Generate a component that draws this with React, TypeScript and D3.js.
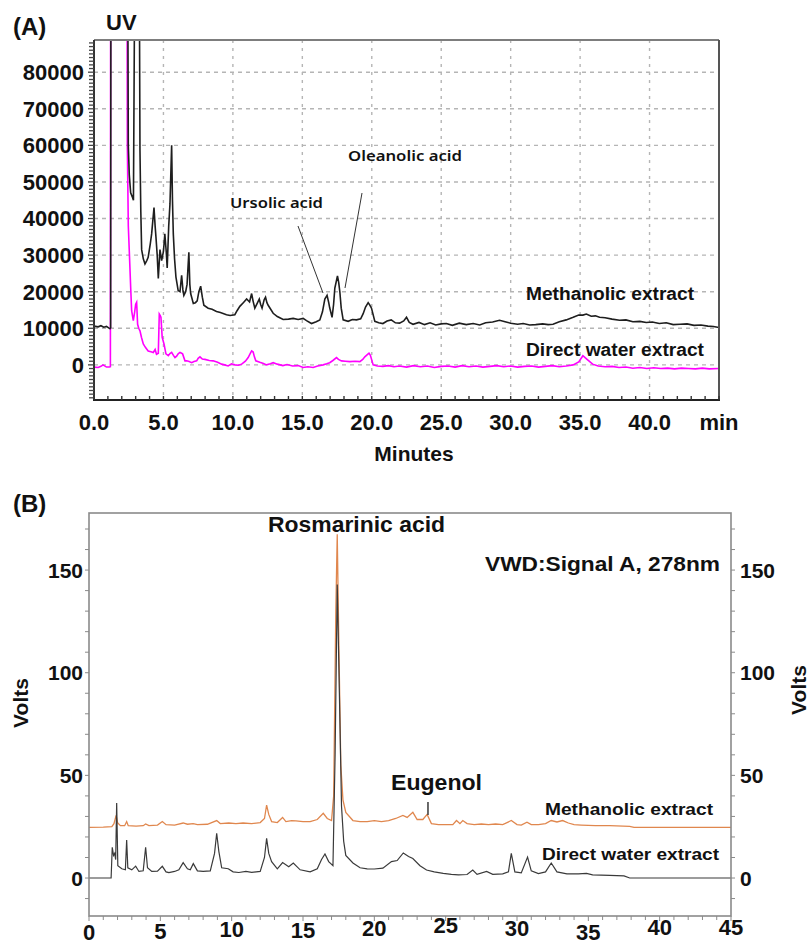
import React from 'react';
import * as d3 from 'd3';

// ---------- Panel A data (UV chromatogram) ----------
const A_METH_T = [0, 0.3, 0.5, 0.7, 0.9, 1.05, 1.15, 1.2, 1.22, 2.42, 2.47, 2.54, 2.64, 2.75, 2.84, 2.95, 3.25, 3.31, 3.37, 3.43, 3.55, 3.67, 3.8, 3.9, 4.05, 4.15, 4.32, 4.4, 4.46, 4.55, 4.63, 4.75, 4.87, 5.0, 5.1, 5.2, 5.27, 5.38, 5.47, 5.59, 5.65, 5.71, 5.8, 5.9, 6.06, 6.19, 6.31, 6.4, 6.47, 6.6, 6.7, 6.83, 6.9, 6.96, 7.15, 7.3, 7.43, 7.55, 7.68, 7.8, 7.91, 8.22, 8.5, 8.82, 9.1, 9.54, 9.8, 10.14, 10.3, 10.5, 10.75, 10.99, 11.2, 11.35, 11.45, 11.58, 11.75, 11.9, 12.0, 12.1, 12.25, 12.35, 12.45, 12.54, 12.9, 13.2, 13.62, 14.0, 14.34, 14.7, 15.06, 15.3, 15.66, 16.0, 16.26, 16.45, 16.62, 16.78, 16.9, 16.97, 17.14, 17.25, 17.34, 17.53, 17.62, 17.7, 17.8, 17.94, 18.3, 18.6, 18.9, 19.2, 19.38, 19.55, 19.74, 19.85, 19.98, 20.22, 20.5, 20.8, 21.1, 21.4, 21.7, 22.0, 22.3, 22.5, 22.7, 22.97, 23.4, 23.8, 24.2, 24.6, 25.0, 25.37, 25.8, 26.3, 26.8, 27.3, 27.77, 28.2, 28.7, 29.2, 29.6, 30.0, 30.5, 30.9, 31.37, 31.8, 32.3, 32.7, 33.05, 33.5, 34.0, 34.5, 34.9, 35.2, 35.45, 35.8, 36.1, 36.4, 36.8, 37.3, 37.84, 38.3, 38.8, 39.3, 39.76, 40.2, 40.7, 41.2, 41.7, 42.2, 42.7, 43.2, 43.7, 44.2, 44.6, 45.0];
const A_METH_V = [10600, 10400, 10700, 10300, 10500, 10100, 9900, 10200, 120000, 120000, 60000, 52000, 47000, 46000, 45000, 120000, 120000, 58600, 42000, 31500, 29000, 27600, 28500, 29400, 33000, 35800, 43000, 38000, 35000, 30000, 23600, 31500, 28500, 31000, 35800, 31000, 26500, 38000, 44000, 60000, 45000, 35800, 29000, 24000, 20300, 20000, 24500, 20500, 19000, 20000, 22000, 30800, 22000, 19500, 16800, 17000, 17500, 20000, 21500, 18500, 16300, 15500, 15200, 14600, 14300, 13700, 13500, 13700, 14800, 16000, 17000, 18000, 17200, 19500, 17500, 15500, 16800, 18000, 16500, 15500, 17800, 18500, 17000, 16300, 14100, 13200, 12400, 12500, 12700, 12400, 12700, 12100, 11300, 11800, 12300, 14500, 18000, 19000, 17000, 15600, 13000, 16500, 21000, 24300, 22500, 20000, 15500, 12300, 11900, 12400, 12300, 12600, 14000, 15800, 17000, 16400, 15500, 11900, 11500, 11300, 12000, 12300, 11500, 11400, 12000, 13000, 11600, 11100, 11600, 11000, 11500, 10900, 11200, 11300, 10800, 11400, 11000, 11300, 10900, 11500, 11700, 12200, 11800, 11400, 11100, 11300, 10900, 11000, 11200, 11000, 11100, 11800, 12300, 13000, 13600, 13600, 13900, 13300, 13400, 13000, 12900, 12500, 12200, 12300, 11800, 11900, 11600, 11700, 11300, 11500, 11000, 11100, 11200, 10800, 10900, 10600, 10500, 10200];

const A_WATER_T = [0, 0.3, 0.5, 0.65, 0.9, 1.1, 1.18, 1.2, 2.38, 2.4, 2.47, 2.54, 2.64, 2.71, 2.83, 2.93, 3.0, 3.07, 3.14, 3.22, 3.31, 3.42, 3.55, 3.7, 3.9, 4.1, 4.27, 4.4, 4.5, 4.63, 4.7, 4.76, 4.82, 4.91, 5.04, 5.18, 5.35, 5.47, 5.59, 5.72, 5.83, 5.95, 6.06, 6.19, 6.24, 6.38, 6.55, 6.67, 6.85, 7.03, 7.2, 7.39, 7.5, 7.63, 7.8, 7.99, 8.3, 8.58, 8.9, 9.19, 9.4, 9.66, 9.9, 10.14, 10.4, 10.63, 10.9, 11.1, 11.3, 11.35, 11.46, 11.55, 11.65, 11.94, 12.2, 12.42, 12.7, 12.9, 13.2, 13.6, 13.9, 14.3, 14.7, 15.06, 15.4, 15.78, 16.1, 16.5, 16.75, 16.97, 17.2, 17.46, 17.6, 17.82, 18.1, 18.42, 18.8, 19.14, 19.35, 19.5, 19.74, 19.8, 19.9, 20.1, 20.4, 20.8, 21.2, 21.6, 22.0, 22.5, 23.0, 23.5, 24.0, 24.5, 25.0, 25.5, 26.0, 26.5, 27.0, 27.5, 28.0, 28.5, 29.0, 29.5, 30.0, 30.5, 31.0, 31.5, 32.0, 32.5, 33.0, 33.5, 34.0, 34.5, 34.9, 35.2, 35.5, 35.9, 36.3, 36.8, 37.3, 37.8, 38.3, 38.8, 39.3, 39.8, 40.3, 40.8, 41.3, 41.8, 42.3, 42.8, 43.3, 43.8, 44.3, 45];
const A_WATER_V = [-600, -700, -400, 0, -600, -600, -500, 120000, 120000, 60000, 38000, 31200, 21200, 14800, 12100, 14500, 16600, 17100, 11100, 10000, 9300, 7500, 5700, 4800, 3800, 3600, 3400, 4200, 2900, 3200, 13900, 13500, 13000, 7500, 5700, 3000, 2500, 3100, 3400, 2600, 2000, 2400, 3000, 3400, 3300, 3000, 1100, 1100, 900, 600, 900, 1100, 1800, 2200, 1600, 1500, 1200, 1100, 700, 200, 0, -300, 300, 0, -100, 200, 1000, 2000, 3500, 3800, 3500, 2200, 1100, 700, 400, 0, 300, 600, 200, -200, 100, -300, -200, -700, -500, -700, -300, 0, 300, 600, 1200, 2000, 1500, 1100, 1000, 900, 1000, 900, 1500, 2200, 3000, 3200, 2600, 0, -300, -400, -200, -500, -300, -600, -200, -500, -300, -700, -400, -300, -600, -200, -500, -300, -600, -400, -200, -500, -300, -600, -400, -300, -600, -400, -200, -500, -300, 0, 800, 2500, 1500, 200, -300, -500, -400, -700, -600, -900, -700, -1000, -800, -1000, -900, -1100, -900, -1000, -1100, -900, -1100, -1000];

const A_X_TICKS = [0, 5, 10, 15, 20, 25, 30, 35, 40, 45];
const A_X_LABELS = ['0.0', '5.0', '10.0', '15.0', '20.0', '25.0', '30.0', '35.0', '40.0', 'min'];
const A_Y_TICKS = [0, 10000, 20000, 30000, 40000, 50000, 60000, 70000, 80000];

// ---------- Panel B data (VWD 278 nm) ----------
const B_METH_T = [0, 1.0, 1.6, 1.75, 1.9, 2.0, 2.2, 2.5, 2.64, 2.75, 3.3, 3.8, 3.97, 4.2, 4.8, 5.14, 5.4, 6.0, 6.6, 6.9, 7.3, 7.6, 8.3, 8.95, 9.2, 9.8, 10.3, 10.8, 11.4, 12.0, 12.3, 12.45, 12.6, 12.8, 13.2, 13.57, 13.8, 14.2, 14.5, 15.0, 15.5, 16.0, 16.42, 16.7, 17.0, 17.15, 17.3, 17.4, 17.5, 17.65, 17.8, 18.0, 18.5, 19.0, 19.5, 20.0, 20.5, 21.0, 21.5, 22.0, 22.3, 22.7, 23.0, 23.4, 23.7, 24.0, 24.5, 25.0, 25.5, 25.76, 26.0, 26.2, 26.5, 27.0, 27.5, 28.0, 28.5, 29.0, 29.6, 30.0, 30.3, 30.7, 31.0, 31.5, 32.0, 32.4, 32.8, 33.2, 33.6, 34.0, 34.5, 35.5, 36.5, 37.9, 38.2, 45];
const B_METH_V = [24.7, 24.8, 25, 26.5, 30.5, 27, 25.5, 25.5, 27.5, 25.5, 25.3, 25.5, 26.3, 25.5, 25.8, 27.5, 26, 25.8, 26.8, 26.2, 26.5, 26, 26.2, 28, 26.5, 26.8, 26.5, 26.8, 26.5, 27, 29, 35.5, 31, 27.5, 27, 29.5, 27.5, 28, 27.8, 27.5, 27.5, 28.5, 31.5, 29, 28, 40, 130, 167.5, 120, 55, 38, 32, 28, 27.5, 27.5, 28, 27.5, 28, 29, 30.5, 29.5, 32, 28.5, 28.5, 31, 26.5, 26, 26, 26, 28, 26.5, 28, 26.5, 26, 26.3, 26, 26.3, 26, 28, 26, 25.8, 27.2, 26, 26, 26.5, 28, 27.3, 28, 26.8, 26, 25.8, 25.5, 25.5, 25.2, 24.7, 24.7];

const B_WATER_T = [0, 1.55, 1.63, 1.72, 1.8, 1.87, 1.94, 2.02, 2.3, 2.55, 2.64, 2.72, 3.0, 3.27, 3.5, 3.8, 3.97, 4.1, 4.4, 4.8, 5.14, 5.4, 5.6, 6.0, 6.3, 6.6, 6.9, 7.1, 7.31, 7.6, 8.0, 8.5, 8.8, 8.95, 9.1, 9.3, 9.76, 10.1, 10.5, 11, 11.4, 12, 12.3, 12.45, 12.6, 12.8, 13.2, 13.57, 14.0, 14.32, 14.8, 15.5, 16.0, 16.3, 16.54, 16.8, 17.1, 17.25, 17.4, 17.55, 17.7, 17.85, 18.0, 18.5, 19.0, 19.5, 20.0, 20.6, 21.2, 21.6, 22.03, 22.4, 22.7, 23.2, 23.66, 24.2, 24.83, 25.4, 25.9, 26.5, 26.9, 27.2, 27.87, 28.3, 29.0, 29.4, 29.6, 29.85, 30.3, 30.74, 31.0, 31.5, 32.0, 32.4, 32.8, 33.5, 34.3, 34.87, 35.3, 36.5, 37.5, 37.9, 45];
const B_WATER_V = [0, 0, 15, 11, 12, 9, 36.5, 6, 4.5, 4, 18.5, 5, 4, 5.8, 3.2, 3.5, 15, 5, 3.2, 3.3, 5.7, 3, 2.6, 3.2, 4, 7.5, 4.5, 4, 7, 3.5, 3.2, 3.5, 12, 21.8, 13, 5, 4.5, 3, 2.7, 3.2, 2.8, 3.2, 10, 19.3, 12, 8, 4.5, 7.5, 5.5, 7.3, 4, 3, 4.5, 9, 11.7, 8, 6, 60, 143, 90, 35, 18, 11, 7.3, 5, 4.5, 4.4, 4.8, 8, 8.5, 12.2, 10.5, 9.5, 6, 3.9, 3, 2.3, 1.8, 1.5, 1.7, 3.9, 1.8, 3.2, 1.8, 2, 3, 12, 3, 2.5, 10.2, 3.5, 2.2, 3, 7.3, 3, 2, 2, 2.3, 1.5, 1.3, 1, 0, 0];

const B_X_TICKS = [0, 5, 10, 15, 20, 25, 30, 35, 40, 45];
const B_Y_TICKS = [0, 50, 100, 150];
const EUGENOL_TIME = 23.76;

// layout-only: the scanned figure's x tick labels in (B) sit at slightly uneven heights
const B_XLABEL_DY = [3, 2, 0, 1, -1, -4, -1, 3, -2, -2];

const FONT = "'Liberation Sans', Arial, Helvetica, sans-serif";
const CAL = "'Noto Sans', 'Open Sans', sans-serif";

const zipPts = (t: number[], v: number[]) => t.map((x, i) => [x, v[i]] as [number, number]);

function PanelA() {
  const x = d3.scaleLinear().domain([0, 45]).range([94, 719]);
  const y = d3.scaleLinear().domain([-9600, 88800]).range([400, 40]);
  const line = d3.line<[number, number]>().x(d => x(d[0])).y(d => y(d[1]));
  const minorY = d3.range(-9000, 88001, 1000);
  const minorX = d3.range(0, 46, 1);
  return (
    <g>
      <defs>
        <clipPath id="clipA">
          <rect x={x(0)} y={y(88800)} width={x(45) - x(0)} height={y(-9600) - y(88800)} />
        </clipPath>
      </defs>
      {A_X_TICKS.filter(t => t > 0 && t < 45).map(t => (
        <line key={'gx' + t} x1={x(t)} x2={x(t)} y1={y(88800)} y2={y(-9600)} stroke="#b5b5b5" strokeWidth={1.4} strokeDasharray="3,5" />
      ))}
      {A_Y_TICKS.map(t => (
        <line key={'gy' + t} x1={x(0)} x2={x(45)} y1={y(t)} y2={y(t)} stroke="#b5b5b5" strokeWidth={1.4} strokeDasharray="4,4" />
      ))}
      <g clipPath="url(#clipA)">
        <path d={line(zipPts(A_WATER_T, A_WATER_V)) || ''} fill="none" stroke="#ff00ff" strokeWidth={1.6} />
        <path d={line(zipPts(A_METH_T, A_METH_V)) || ''} fill="none" stroke="#1e1e1e" strokeWidth={1.6} />
      </g>
      <line x1={x(0)} x2={x(45)} y1={y(88800)} y2={y(88800)} stroke="#7d7d7d" strokeWidth={2} />
      <line x1={x(45)} x2={x(45)} y1={y(88800)} y2={y(-9600)} stroke="#555" strokeWidth={2} />
      <line x1={x(0)} x2={x(0)} y1={y(88800)} y2={y(-9600)} stroke="#333" strokeWidth={2} />
      <line x1={x(0) - 1} x2={x(45) + 1} y1={y(-9600)} y2={y(-9600)} stroke="#222" strokeWidth={2.2} />
      {minorY.map(t => (
        <line key={'my' + t} x1={x(0) - (t % 10000 === 0 ? 6 : 5)} x2={x(0)} y1={y(t)} y2={y(t)} stroke="#444" strokeWidth={1.3} />
      ))}
      {minorX.map(t => (
        <line key={'mx' + t} x1={x(t)} x2={x(t)} y1={y(-9600)} y2={y(-9600) - 4} stroke="#333" strokeWidth={1.4} />
      ))}
      {A_Y_TICKS.map(t => (
        <text key={'yl' + t} x={x(0) - 10} y={y(t)} dy="0.36em" textAnchor="end" fontFamily={FONT} fontWeight="bold" fontSize={22} fill="#111">{t}</text>
      ))}
      {A_X_TICKS.map((t, i) => (
        <text key={'xl' + t} x={x(t)} y={430} textAnchor="middle" fontFamily={FONT} fontWeight="bold" fontSize={22} fill="#111">{A_X_LABELS[i]}</text>
      ))}
      <text x={414} y={461} textAnchor="middle" fontFamily={FONT} fontWeight="bold" fontSize={21} fill="#111">Minutes</text>
      <text x={13} y={35} fontFamily={FONT} fontWeight="bold" fontSize={24} fill="#111">(A)</text>
      <text x={106} y={30} fontFamily={FONT} fontWeight="bold" fontSize={22} fill="#111">UV</text>
      <text x={230} y={208} fontFamily={CAL} fontWeight={600} fontSize={14} textLength={93} lengthAdjust="spacingAndGlyphs" fill="#111">Ursolic acid</text>
      <text x={348} y={161} fontFamily={CAL} fontWeight={600} fontSize={14} textLength={114} lengthAdjust="spacingAndGlyphs" fill="#111">Oleanolic acid</text>
      <line x1={298} y1={226} x2={323} y2={293} stroke="#333" strokeWidth={1} />
      <line x1={362} y1={193} x2={345} y2={288} stroke="#333" strokeWidth={1} />
      <text x={526} y={300} fontFamily={FONT} fontWeight="bold" fontSize={18} textLength={168} lengthAdjust="spacingAndGlyphs" fill="#111">Methanolic extract</text>
      <text x={526} y={356} fontFamily={FONT} fontWeight="bold" fontSize={18} textLength={178} lengthAdjust="spacingAndGlyphs" fill="#111">Direct water extract</text>
    </g>
  );
}

function PanelB() {
  const x = d3.scaleLinear().domain([0, 45]).range([89, 731]);
  const y = d3.scaleLinear().domain([-18.5, 177.8]).range([916, 513]);
  const line = d3.line<[number, number]>().x(d => x(d[0])).y(d => y(d[1]));
  const minorY = d3.range(-10, 171, 10);
  const minorX = d3.range(0, 46, 1);
  return (
    <g>
      <path d={line(zipPts(B_METH_T, B_METH_V)) || ''} fill="none" stroke="#e0874e" strokeWidth={1.3} />
      <path d={line(zipPts(B_WATER_T, B_WATER_V)) || ''} fill="none" stroke="#3a3a3a" strokeWidth={1.2} />
      <rect x={x(0)} y={y(177.8)} width={x(45) - x(0)} height={y(-18.5) - y(177.8)} fill="none" stroke="#8a8a8a" strokeWidth={1.6} />
      {minorY.map(t => (
        <g key={'by' + t}>
          <line x1={x(0) - 4} x2={x(0)} y1={y(t)} y2={y(t)} stroke="#8a8a8a" strokeWidth={1} />
          <line x1={x(45)} x2={x(45) + 4} y1={y(t)} y2={y(t)} stroke="#8a8a8a" strokeWidth={1} />
        </g>
      ))}
      {minorX.map(t => (
        <line key={'bx' + t} x1={x(t)} x2={x(t)} y1={y(-18.5)} y2={y(-18.5) + (t % 5 === 0 ? 5 : 4)} stroke="#8a8a8a" strokeWidth={1} />
      ))}
      {B_Y_TICKS.map(t => (
        <g key={'byl' + t}>
          <text x={x(0) - 6} y={y(t)} dy="0.36em" textAnchor="end" fontFamily={FONT} fontWeight="bold" fontSize={21} fill="#111">{t}</text>
          <text x={x(45) + 9} y={y(t)} dy="0.36em" textAnchor="start" fontFamily={FONT} fontWeight="bold" fontSize={21} fill="#111">{t}</text>
        </g>
      ))}
      {B_X_TICKS.map((t, i) => (
        <text key={'bxl' + t} x={x(t)} y={937 + B_XLABEL_DY[i]} textAnchor="middle" fontFamily={FONT} fontWeight="bold" fontSize={22} fill="#111">{t}</text>
      ))}
      <text transform="translate(28,703) rotate(-90)" textAnchor="middle" fontFamily={FONT} fontWeight="bold" fontSize={21} fill="#111">Volts</text>
      <text transform="translate(806,690) rotate(-90)" textAnchor="middle" fontFamily={FONT} fontWeight="bold" fontSize={21} fill="#111">Volts</text>
      <text x={13} y={512} fontFamily={FONT} fontWeight="bold" fontSize={24} fill="#111">(B)</text>
      <text x={268} y={532} fontFamily={FONT} fontWeight="bold" fontSize={22} textLength={177} lengthAdjust="spacingAndGlyphs" fill="#111">Rosmarinic acid</text>
      <text x={485} y={571} fontFamily={FONT} fontWeight="bold" fontSize={21} textLength={235} lengthAdjust="spacingAndGlyphs" fill="#111">VWD:Signal A, 278nm</text>
      <text x={391} y={790} fontFamily={FONT} fontWeight="bold" fontSize={22} textLength={91} lengthAdjust="spacingAndGlyphs" fill="#111">Eugenol</text>
      <line x1={x(EUGENOL_TIME)} x2={x(EUGENOL_TIME)} y1={802} y2={815} stroke="#444" strokeWidth={1.6} />
      <text x={545} y={815} fontFamily={FONT} fontWeight="bold" fontSize={17} textLength={168} lengthAdjust="spacingAndGlyphs" fill="#111">Methanolic extract</text>
      <text x={542} y={860} fontFamily={FONT} fontWeight="bold" fontSize={17} textLength={177} lengthAdjust="spacingAndGlyphs" fill="#111">Direct water extract</text>
    </g>
  );
}

export default function App() {
  return (
    <svg width={809} height={945} viewBox="0 0 809 945" style={{ position: 'absolute', left: 0, top: 0, background: '#fff' }}>
      <rect x={0} y={0} width={809} height={945} fill="#fff" />
      <PanelA />
      <PanelB />
    </svg>
  );
}
